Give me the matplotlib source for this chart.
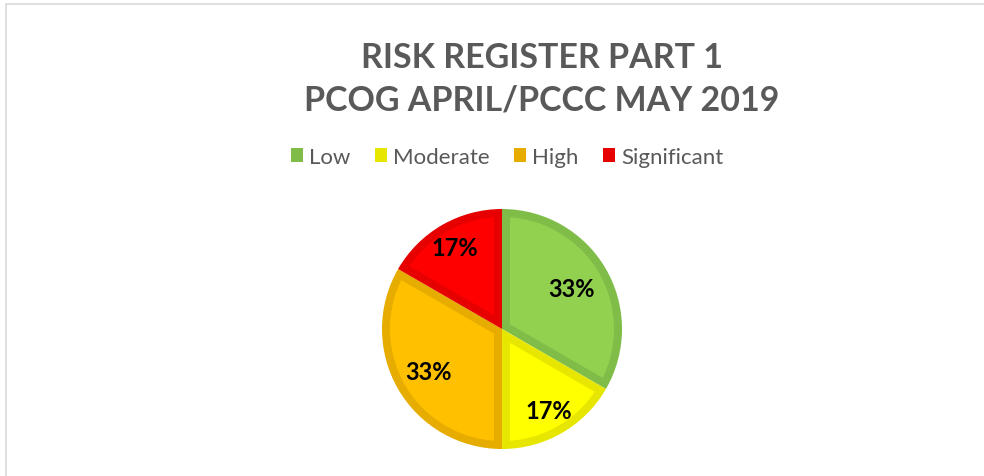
import matplotlib.pyplot as plt
from matplotlib.patches import Patch, Rectangle, Polygon
import numpy as np

categories = ["Low", "Moderate", "High", "Significant"]
counts = [2, 1, 2, 1]
fill_colors = ["#92D050", "#FFFF00", "#FFC000", "#FF0000"]
edge_colors = ["#7FBC48", "#E6E600", "#E6AD00", "#E60000"]
label_dist = [0.67, 0.78, 0.71, 0.78]

plt.rcParams['font.family'] = ['Lato', 'DejaVu Sans']

fig = plt.figure(figsize=(9.84, 4.77), dpi=100)
W, H = 984, 477

# outer chart frame (cut off at right/bottom like the screenshot)
fig.add_artist(Rectangle((6 / W, -0.2), 1.2, (H - 5) / H + 0.2,
                         transform=fig.transFigure, fill=False,
                         edgecolor="#D9D9D9", linewidth=1.2))

# pie axes, centred at (502, 330) px with radius 120 px
cx, cy, r = 502, 330, 120
half = 130
ax = fig.add_axes([(cx - half) / W, (H - cy - half) / H, 2 * half / W, 2 * half / H])
# wedges drawn in the darker border colour, lighter inset on top
wedges, _ = ax.pie(counts, colors=edge_colors, startangle=90, counterclock=False,
                   radius=1, wedgeprops=dict(linewidth=0))

t = 8 / r  # border width
for w, fc in zip(wedges, fill_colors):
    a1, a2 = np.deg2rad(w.theta1), np.deg2rad(w.theta2)
    alpha = (a2 - a1) / 2
    mid = (a1 + a2) / 2
    ri = 1 - t
    da = np.arcsin(t / ri)
    arc = np.linspace(a1 + da, a2 - da, 100)
    corner = t / np.sin(alpha)
    pts = [(corner * np.cos(mid), corner * np.sin(mid))]
    pts += list(zip(ri * np.cos(arc), ri * np.sin(arc)))
    ax.add_patch(Polygon(pts, closed=True, facecolor=fc, edgecolor="none"))

total = sum(counts)
for w, c, d in zip(wedges, counts, label_dist):
    mid = np.deg2rad((w.theta1 + w.theta2) / 2)
    ax.text(d * np.cos(mid), d * np.sin(mid), f"{100 * c / total:.0f}%",
            ha="center", va="center", fontsize=17, fontweight="bold", color="black")

lim = half / r
ax.set_xlim(-lim, lim)
ax.set_ylim(-lim, lim)
ax.set_aspect("equal")
ax.axis("off")

fig.text(542 / W, (H - 58) / H, "RISK REGISTER PART 1", ha="center", va="center",
         fontsize=24.5, fontweight="bold", color="#595959")
fig.text(542 / W, (H - 100) / H, "PCOG APRIL/PCCC MAY 2019", ha="center", va="center",
         fontsize=24.5, fontweight="bold", color="#595959")

handles = [Patch(facecolor=ec, edgecolor="none") for ec in edge_colors]
fig.legend(handles, categories, loc="center", bbox_to_anchor=(507 / W, (H - 158) / H),
           ncol=4, frameon=False, fontsize=16, labelcolor="#595959",
           handlelength=0.55, handleheight=0.55, handletextpad=0.27, columnspacing=1.1)

fig.savefig("out.png", dpi=100)
